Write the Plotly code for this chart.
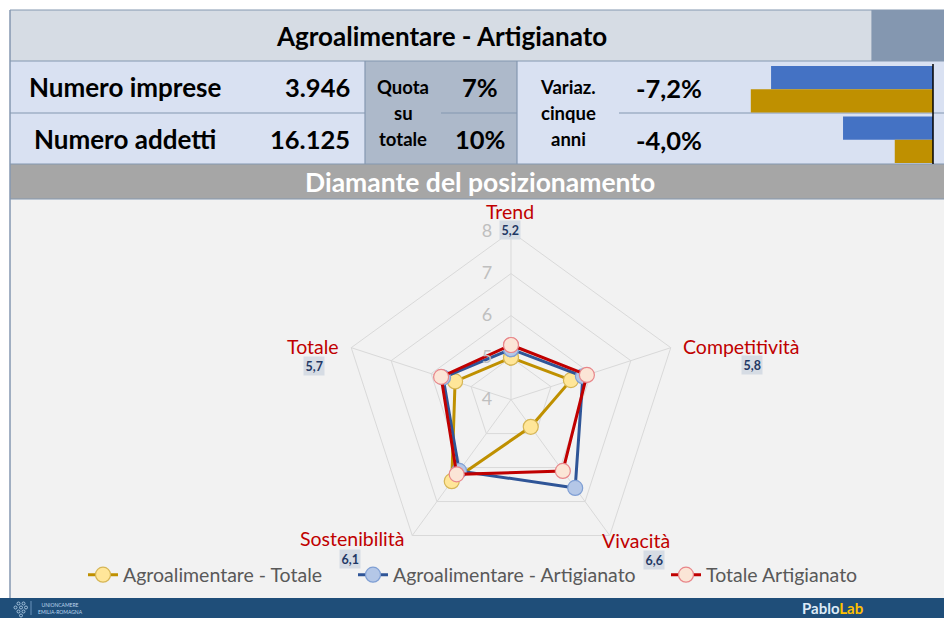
import plotly.graph_objects as go

W, H = 944, 618


def X(px):
    return px / W


def Y(py):
    return 1 - py / H


# ---------------- data ----------------
title_text = "Agroalimentare - Artigianato"
section_title = "Diamante del posizionamento"
row_labels = ["Numero imprese", "Numero addetti"]
row_values = ["3.946", "16.125"]
quota_label = ["Quota", "su", "totale"]
quota_values = ["7%", "10%"]
variaz_label = ["Variaz.", "cinque", "anni"]
variaz_values = ["-7,2%", "-4,0%"]
bar_categories = ["imprese", "addetti"]
variaz_artigianato = [-7.2, -4.0]
variaz_totale = [-8.1, -1.7]

categories = ["Trend", "Competitività", "Vivacità", "Sostenibilità", "Totale"]
agro_totale = [5.0, 5.5, 4.8, 6.4, 5.4]
agro_artigianato = [5.2, 5.8, 6.6, 6.1, 5.7]
totale_artigianato = [5.3, 5.9, 6.1, 6.2, 5.75]
value_labels = ["5,2", "5,8", "6,6", "6,1", "5,7"]
radial_ticks = [4, 5, 6, 7, 8]
series_names = ["Agroalimentare - Totale", "Agroalimentare - Artigianato", "Totale Artigianato"]

FONT = "Lato"

fig = go.Figure()

# ---------------- radar ----------------
series = [
    (series_names[0], agro_totale, "#BF9000", "#FFE699", "#D6B656", "legend"),
    (series_names[1], agro_artigianato, "#2F5597", "#B4C7E7", "#7F9FD4", "legend2"),
    (series_names[2], totale_artigianato, "#C00000", "#FBE5D6", "#E8868A", "legend3"),
]
for name, vals, lc, mf, mb, lg in series:
    fig.add_trace(go.Scatterpolar(
        r=vals + vals[:1], theta=categories + categories[:1],
        mode="lines+markers", name=name, legend=lg,
        line=dict(color=lc, width=3),
        marker=dict(size=15, color=mf, line=dict(color=mb, width=1.2)),
        cliponaxis=False, hoverinfo="skip",
    ))

# ---------------- small bars ----------------
fig.add_trace(go.Bar(
    y=bar_categories, x=variaz_artigianato, orientation="h",
    marker=dict(color="#4472C4", line=dict(width=0)), showlegend=False,
    xaxis="x", yaxis="y", hoverinfo="skip",
))
fig.add_trace(go.Bar(
    y=bar_categories, x=variaz_totale, orientation="h",
    marker=dict(color="#BF9000", line=dict(width=0)), showlegend=False,
    xaxis="x", yaxis="y", hoverinfo="skip",
))

cx, cy, R = 511, 399.6, 168

shapes = []
BORDER = "#8497B0"


def rect(x0, y0, x1, y1, color, lw=0, lc=None):
    shapes.append(dict(type="rect", xref="paper", yref="paper",
                       x0=X(x0), x1=X(x1), y0=Y(y1), y1=Y(y0),
                       fillcolor=color, line=dict(width=lw, color=lc or color),
                       layer="below"))


def line(x0, y0, x1, y1, color=BORDER, w=1.2, layer="below"):
    shapes.append(dict(type="line", xref="paper", yref="paper",
                       x0=X(x0), x1=X(x1), y0=Y(y0), y1=Y(y1),
                       line=dict(color=color, width=w), layer=layer))


# backgrounds
rect(10, 10, 944, 61, "#D6DCE4")
rect(872, 10, 944, 61, "#8497B0")
rect(10, 61, 365, 164, "#D9E1F2")
rect(365, 61, 517, 164, "#ADB9CA")
rect(517, 61, 944, 164, "#D9E1F2")
rect(10, 164, 944, 199, "#A6A6A6")
rect(10, 199, 944, 598, "#F2F2F2")
rect(0, 598, 944, 618, "#1F4E79")

# borders
line(10, 10, 944, 10)
line(10, 10, 10, 598, w=1.5)
line(10, 61, 944, 61)
line(872, 10, 872, 61)
line(10, 113, 365, 113)
line(441, 113, 517, 113)
line(619, 113, 944, 113)
line(365, 61, 365, 164)
line(517, 61, 517, 164)
line(10, 164, 944, 164)
line(10, 199, 944, 199)
# zero line of the small bar chart
line(933, 64, 933, 164, color="#000000", w=1.5, layer="above")

# logo dots
for dx, dy in [(0, 0), (5, 0), (-3, 4), (2.5, 4), (7.5, 4), (0, 8), (5, 8), (2.5, 12)]:
    shapes.append(dict(type="circle", xref="paper", yref="paper",
                       x0=X(17 + dx), x1=X(20 + dx), y0=Y(605 + dy), y1=Y(602 + dy),
                       line=dict(color="#BDD7EE", width=0.8), fillcolor="rgba(0,0,0,0)"))
line(31, 601, 31, 615, color="#9DC3E6", w=0.6, layer="above")

annotations = []


def text(x, y, s, size, color="#000000", bold=False, xanchor="center", bg=None, **kw):
    a = dict(xref="paper", yref="paper", x=X(x), y=Y(y), text=("<b>%s</b>" % s) if bold else s,
             showarrow=False, xanchor=xanchor, yanchor="middle",
             font=dict(family=FONT, size=size, color=color))
    if bg:
        a.update(bgcolor=bg, borderpad=2)
    a.update(kw)
    annotations.append(a)


BIG = 25.5
text(441, 36, title_text, 26, bold=True)
text(125, 87, row_labels[0], 26, bold=True)
text(125, 139, row_labels[1], 26, bold=True)
text(352, 87, row_values[0], BIG, bold=True, xanchor="right")
text(352, 139, row_values[1], BIG, bold=True, xanchor="right")
for i, s in enumerate(quota_label):
    text(403, 87 + 26 * i, s, 18.5, bold=True)
text(480, 87, quota_values[0], BIG, bold=True)
text(480, 139, quota_values[1], BIG, bold=True)
for i, s in enumerate(variaz_label):
    text(568, 87 + 26 * i, s, 18.5, bold=True)
text(669, 88, variaz_values[0], BIG, bold=True)
text(669, 140, variaz_values[1], BIG, bold=True)
text(480, 182, section_title, 26.5, color="#FFFFFF", bold=True)

# radar category labels and value boxes
cat_pos = [(510, 212, "center"), (681, 346, "left"), (636, 540, "center"),
           (352, 538, "center"), (313, 346, "center")]
val_pos = [(510, 230), (752, 365), (654, 560), (350, 559), (314, 366)]
for c, (x, y, xa), v, (vx, vy) in zip(categories, cat_pos, value_labels, val_pos):
    text(x, y, c, 19.5, color="#C00000", xanchor=xa)
    text(vx, vy, v, 12.5, color="#1F3864", bold=True, bg="#D6DCE4", borderpad=1.5)

# footer
text(832, 608, "Pablo<span style='color:#FFC000'>Lab</span>", 15, color="#DDEBF7", bold=True)
text(36, 608, "UNIONCAMERE<br>EMILIA-ROMAGNA", 5, color="#BDD7EE", xanchor="left")

legend_text_starts = [125, 395, 708]
legend_common = dict(orientation="h", xanchor="left", y=Y(575), yanchor="middle",
                     font=dict(family=FONT, size=19.5, color="#595959"),
                     bgcolor="rgba(0,0,0,0)", borderwidth=0, itemwidth=30)

fig.update_layout(
    width=W, height=H, margin=dict(l=0, r=0, t=0, b=0),
    paper_bgcolor="#FFFFFF", plot_bgcolor="rgba(0,0,0,0)",
    font=dict(family=FONT),
    shapes=shapes, annotations=annotations,
    showlegend=True,
    legend=dict(x=X(legend_text_starts[0] - 42), **legend_common),
    legend2=dict(x=X(legend_text_starts[1] - 42), **legend_common),
    legend3=dict(x=X(legend_text_starts[2] - 42), **legend_common),
    polar=dict(
        domain=dict(x=[X(cx - R), X(cx + R)], y=[Y(cy + R), Y(cy - R)]),
        bgcolor="rgba(0,0,0,0)",
        gridshape="linear",
        angularaxis=dict(rotation=90, direction="clockwise", showticklabels=False,
                         ticks="", showline=True, linecolor="#D9D9D9", linewidth=1,
                         gridcolor="#D9D9D9", gridwidth=1),
        radialaxis=dict(range=[4, 8], tickvals=radial_ticks, angle=90, tickangle=90,
                        side="counterclockwise", showline=False,
                        ticks="outside", ticklen=12, tickcolor="rgba(0,0,0,0)",
                        gridcolor="#D9D9D9", gridwidth=1,
                        tickfont=dict(family=FONT, size=18, color="#BFBFBF")),
    ),
    xaxis=dict(domain=[X(720), X(933)], range=[-9.47, 0], visible=False, fixedrange=True),
    yaxis=dict(domain=[Y(165), Y(64)], autorange="reversed", visible=False, fixedrange=True,
               anchor="x"),
    barmode="group", bargap=0.08, bargroupgap=0,
)

fig.write_html("out.html", config=dict(displayModeBar=False),
               post_script="document.body.style.margin='0';document.body.style.overflow='hidden';")
